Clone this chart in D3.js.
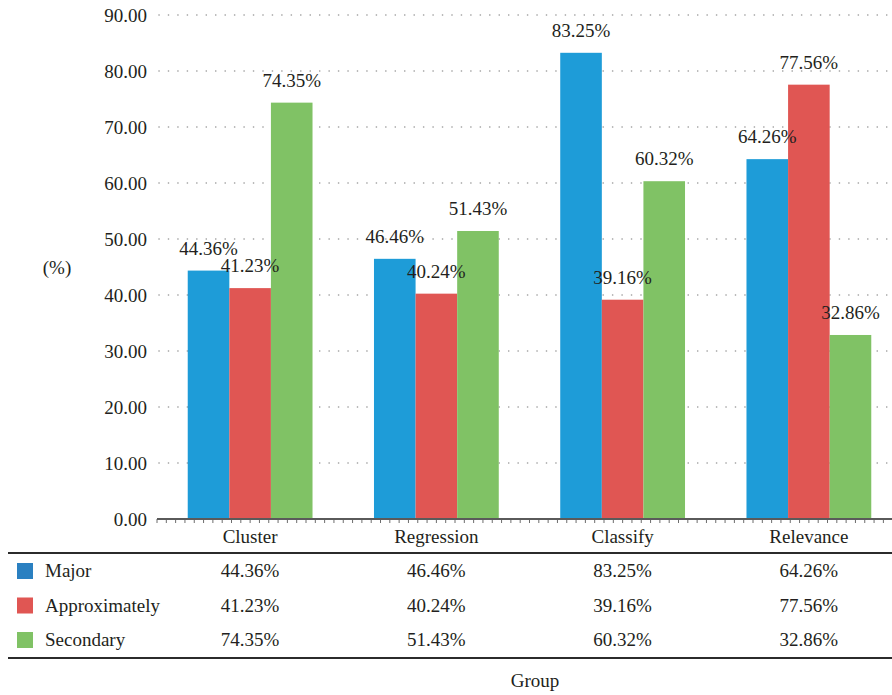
<!DOCTYPE html>
<html>
<head>
<meta charset="utf-8">
<script src="https://cdn.jsdelivr.net/npm/d3@7/dist/d3.min.js"></script>
<style>
  html, body { margin: 0; padding: 0; background: #fff; }
  svg { display: block; }
</style>
</head>
<body>
<svg id="chart" width="892" height="695"></svg>
<script>
// Groups along the x axis
const categories = ["Cluster", "Regression", "Classify", "Relevance"];
// Series names and their values (%) per group
const seriesNames = ["Major", "Approximately", "Secondary"];
const majorValues = [44.36, 46.46, 83.25, 64.26];
const approxValues = [41.23, 40.24, 39.16, 77.56];
const secondaryValues = [74.35, 51.43, 60.32, 32.86];
const yTicks = [0, 10, 20, 30, 40, 50, 60, 70, 80, 90];
const seriesColors = ["#1e9cd8", "#e05653", "#80c265"];
const swatchColors = ["#2a80c1", "#e05653", "#80c265"];

const seriesValues = [majorValues, approxValues, secondaryValues];
const series = seriesNames.map((name, i) => ({ name, values: seriesValues[i], color: seriesColors[i], swatch: swatchColors[i] }));

const FONT = "'Liberation Serif', 'DejaVu Serif', 'Noto Serif', serif";
const TEXT = "#231f20";
const fontSize = 19;

const svg = d3.select("#chart")
  .attr("font-family", FONT)
  .attr("fill", TEXT);

const x0 = d3.scaleBand().domain(categories).range([157, 902]).paddingInner(0).paddingOuter(0);
const x1 = d3.scaleBand().domain(seriesNames)
  .range([x0.bandwidth() * 0.165, x0.bandwidth() * 0.835]);
const y = d3.scaleLinear().domain([0, 90]).range([519, 15]);

// Dotted horizontal gridlines
const grid = svg.append("g");
yTicks.filter(t => t > 0).forEach(t => {
  grid.append("line")
    .attr("x1", 159).attr("x2", 892)
    .attr("y1", y(t)).attr("y2", y(t))
    .attr("stroke", "#9a9a9a").attr("stroke-width", 1.6)
    .attr("stroke-linecap", "round")
    .attr("stroke-dasharray", "0.1 9.35");
});

// Y tick labels
const yAxis = d3.axisLeft(y).tickValues(yTicks).tickFormat(d3.format(".2f")).tickSize(0).tickPadding(0);
const yg = svg.append("g").attr("transform", "translate(147,0)").call(yAxis);
yg.attr("font-family", FONT).attr("font-size", fontSize);
yg.select(".domain").remove();
yg.selectAll("text").attr("fill", TEXT).attr("dy", "0.34em");

// Y axis title
svg.append("text").attr("x", 57).attr("y", 268).attr("dy", "0.34em")
  .attr("text-anchor", "middle").attr("font-size", fontSize).text("(%)");

// Bars
const groups = svg.append("g").selectAll("g").data(categories).join("g")
  .attr("transform", d => `translate(${x0(d)},0)`);

groups.selectAll("rect")
  .data((c, ci) => series.map(s => ({ s, v: s.values[ci] })))
  .join("rect")
  .attr("x", d => x1(d.s.name))
  .attr("width", x1.bandwidth())
  .attr("y", d => y(d.v))
  .attr("height", d => y(0) - y(d.v))
  .attr("fill", d => d.s.color);

// Value labels above each bar
groups.selectAll("text.val")
  .data((c, ci) => series.map(s => ({ s, v: s.values[ci] })))
  .join("text")
  .attr("class", "val")
  .attr("x", d => x1(d.s.name) + x1.bandwidth() / 2)
  .attr("y", d => y(d.v) - 22.5)
  .attr("dy", "0.34em")
  .attr("text-anchor", "middle")
  .attr("font-size", fontSize)
  .text(d => d.v.toFixed(2) + "%");

// X axis baseline with minor ticks
const axisG = svg.append("g");
const minorStep = x0.step() / 20;
d3.range(0, 80).forEach(i => {
  const xx = 157 + i * minorStep;
  if (xx > 892) return;
  axisG.append("line").attr("x1", xx).attr("x2", xx).attr("y1", 519).attr("y2", 523)
    .attr("stroke", "#6d6d6d").attr("stroke-width", 1);
});
axisG.append("line").attr("x1", 157).attr("x2", 892).attr("y1", 519).attr("y2", 519)
  .attr("stroke", "#5a5a5a").attr("stroke-width", 2);

// Category labels
svg.append("g").selectAll("text").data(categories).join("text")
  .attr("x", d => x0(d) + x0.bandwidth() / 2)
  .attr("y", 537).attr("dy", "0.34em")
  .attr("text-anchor", "middle").attr("font-size", fontSize)
  .text(d => d);

// Data table below the axis
svg.append("line").attr("x1", 8).attr("x2", 892).attr("y1", 553).attr("y2", 553)
  .attr("stroke", "#2b2b2b").attr("stroke-width", 2);
svg.append("line").attr("x1", 8).attr("x2", 892).attr("y1", 658).attr("y2", 658)
  .attr("stroke", "#2b2b2b").attr("stroke-width", 2);

const rowY = d3.scalePoint().domain(seriesNames).range([571, 640]);
const rows = svg.append("g").selectAll("g").data(series).join("g")
  .attr("transform", d => `translate(0,${rowY(d.name)})`);
rows.append("rect").attr("x", 17).attr("y", -8).attr("width", 16).attr("height", 16)
  .attr("fill", d => d.swatch);
rows.append("text").attr("x", 45).attr("dy", "0.34em").attr("font-size", fontSize)
  .text(d => d.name);
rows.selectAll("text.cell").data(d => d.values.map((v, i) => ({ v, c: categories[i] })))
  .join("text").attr("class", "cell")
  .attr("x", d => x0(d.c) + x0.bandwidth() / 2)
  .attr("dy", "0.34em").attr("text-anchor", "middle").attr("font-size", fontSize)
  .text(d => d.v.toFixed(2) + "%");

// X axis title
svg.append("text").attr("x", 535).attr("y", 681).attr("dy", "0.34em")
  .attr("text-anchor", "middle").attr("font-size", fontSize).text("Group");
</script>
</body>
</html>
